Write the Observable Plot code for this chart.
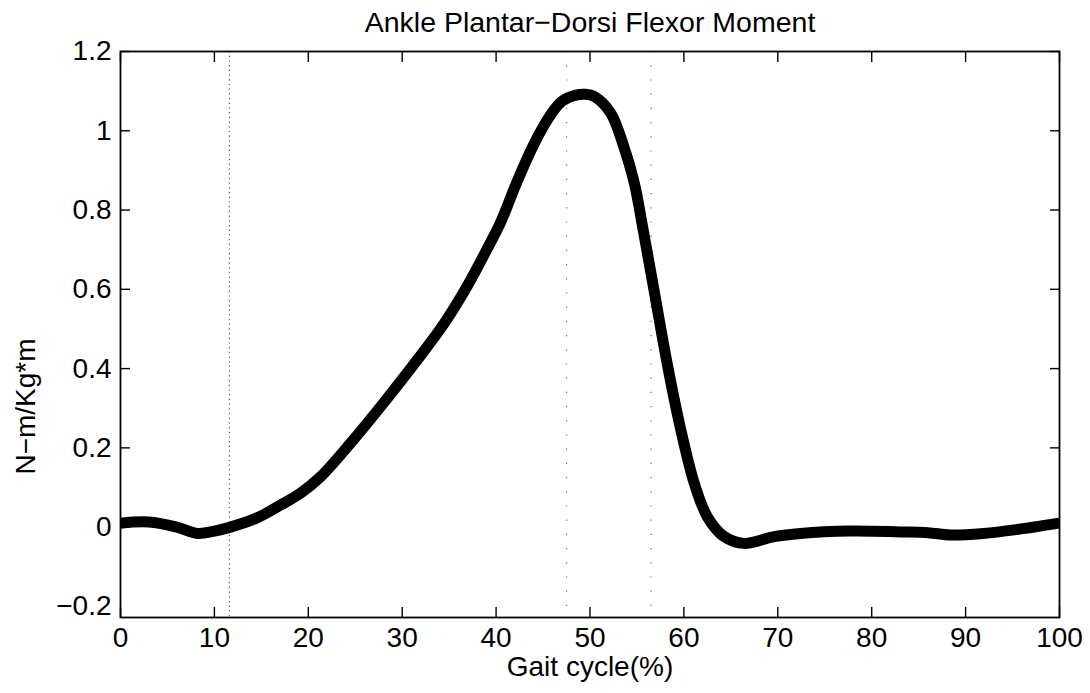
<!DOCTYPE html>
<html>
<head>
<meta charset="utf-8">
<script src="https://cdn.jsdelivr.net/npm/d3@7"></script>
<script src="https://cdn.jsdelivr.net/npm/@observablehq/plot@0.6"></script>
<style>
  html, body { margin: 0; padding: 0; background: #fff; }
  svg { display: block; }
</style>
</head>
<body>
<div id="chart"></div>
<script>
const titleText = "Ankle Plantar\u2212Dorsi Flexor Moment";
const xLabel = "Gait cycle(%)";
const yLabel = "N\u2212m/Kg*m";

const gaitPct = [0, 3, 6, 8.2, 10, 11.7, 14.6, 17, 19.2, 21.3, 24.5, 28, 31.6, 34.5, 36.9, 39, 40.5, 42.2, 44.0, 45.8, 47.0, 48.5, 49.5, 50.5, 52.2, 53.6, 54.7, 55.7, 56.8, 58.2, 59.6, 61.1, 62.5, 64.3, 66.4, 69.6, 72.4, 77.7, 83, 86, 88.4, 91.9, 95.5, 100];
const moment = [0.010, 0.013, 0.000, -0.016, -0.010, 0.000, 0.024, 0.055, 0.086, 0.127, 0.212, 0.313, 0.422, 0.515, 0.607, 0.700, 0.770, 0.870, 0.965, 1.040, 1.074, 1.090, 1.092, 1.086, 1.045, 0.960, 0.870, 0.745, 0.600, 0.415, 0.253, 0.111, 0.026, -0.024, -0.041, -0.024, -0.016, -0.010, -0.012, -0.014, -0.020, -0.016, -0.006, 0.010];

const eventX = [11.6, 47.5, 56.5];

const xTicks = [0, 10, 20, 30, 40, 50, 60, 70, 80, 90, 100];
const yTicks = [-0.2, 0, 0.2, 0.4, 0.6, 0.8, 1, 1.2];
const yTickLabels = ["\u22120.2", "0", "0.2", "0.4", "0.6", "0.8", "1", "1.2"];

const data = gaitPct.map((x, i) => ({x, y: moment[i]}));
const font = "Liberation Sans, Arial, Helvetica, sans-serif";

const chart = Plot.plot({
  width: 1090,
  height: 693,
  marginLeft: 120,
  marginRight: 31,
  marginTop: 51,
  marginBottom: 76,
  style: {fontFamily: font, fontSize: "28px", color: "black", background: "white"},
  x: {domain: [0, 100]},
  y: {domain: [-0.228, 1.2]},
  marks: [
    Plot.ruleX([eventX[0]], {stroke: "#555", strokeWidth: 1.2, strokeDasharray: "1.2,3.5"}),
    Plot.ruleX(eventX.slice(1), {stroke: "#666", strokeWidth: 1.2, strokeDasharray: "1.2,13"}),
    Plot.line(data, {x: "x", y: "y", stroke: "black", strokeWidth: 11, curve: "catmull-rom", strokeLinecap: "butt", strokeLinejoin: "round"}),
    Plot.frame({stroke: "black", strokeWidth: 1.8}),
    // bottom axis: inward ticks + labels
    Plot.axisX({anchor: "bottom", ticks: xTicks, tickSize: -10, tickPadding: 20, tickFormat: d => String(d), label: null, fontSize: 28, strokeWidth: 1.4}),
    // top axis: inward ticks only
    Plot.axisX({anchor: "top", ticks: xTicks, tickSize: -10, tickFormat: () => "", label: null, strokeWidth: 1.4}),
    // left axis: labels
    Plot.axisY({anchor: "left", ticks: yTicks, tickSize: 0, tickPadding: 9, tickFormat: d => yTickLabels[yTicks.indexOf(d)], label: null, fontSize: 28}),
    // left/right axis: inward ticks
    Plot.axisY({anchor: "left", ticks: yTicks.slice(1), tickSize: -10, tickFormat: () => "", label: null, strokeWidth: 1.4}),
    Plot.axisY({anchor: "right", ticks: yTicks.slice(1), tickSize: -10, tickFormat: () => "", label: null, strokeWidth: 1.4}),
    Plot.text([titleText], {frameAnchor: "top", lineAnchor: "middle", dy: -29, fontSize: 28.5, fill: "black"}),
    Plot.text([xLabel], {frameAnchor: "bottom", lineAnchor: "middle", dy: 50, fontSize: 28, fill: "black"}),
    Plot.text([yLabel], {frameAnchor: "left", textAnchor: "middle", lineAnchor: "middle", dx: -94, dy: 72, rotate: -90, fontSize: 28, fill: "black"})
  ]
});

document.getElementById("chart").appendChild(chart);
</script>
</body>
</html>
